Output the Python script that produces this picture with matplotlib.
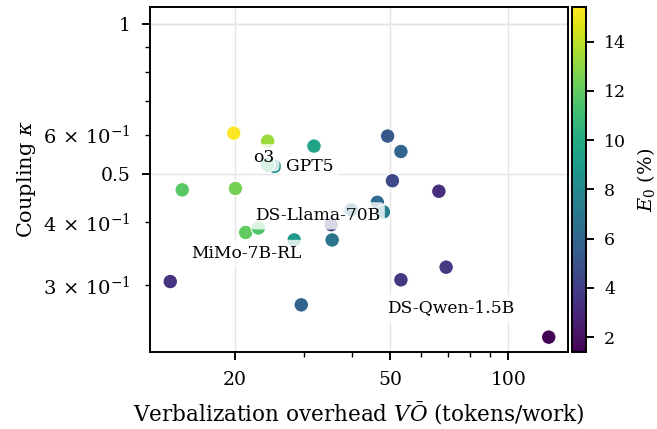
import numpy as np
import matplotlib
matplotlib.use("Agg")
import matplotlib.pyplot as plt
from matplotlib.ticker import NullFormatter, FuncFormatter

plt.rcParams['font.family'] = 'DejaVu Serif'
plt.rcParams['mathtext.fontset'] = 'dejavuserif'

# verbalization overhead (tokens/work), coupling kappa, E0 (%)
vo = [19.9, 24.3, 31.9, 25.3, 24.3, 14.7, 20.1, 21.35, 23.0, 28.4, 35.3, 35.5,
      13.7, 39.7, 49.2, 53.2, 50.6, 66.5, 46.3, 48.0, 29.6, 69.4, 53.2, 126.9]
kappa = [0.604, 0.582, 0.569, 0.518, 0.522, 0.465, 0.468, 0.382, 0.390, 0.369, 0.396, 0.369,
         0.3045, 0.424, 0.596, 0.555, 0.485, 0.462, 0.439, 0.420, 0.2735, 0.3254, 0.307, 0.2356]
e0 = [15.4, 13.3, 9.5, 8.4, 11.0, 11.8, 12.5, 12.0, 11.5, 9.0, 4.3, 6.8,
      3.5, 7.0, 5.2, 6.0, 4.5, 3.3, 6.2, 7.5, 5.8, 3.7, 3.6, 1.4]
names = ['', '', '', 'GPT5', 'o3', '', '', 'MiMo-7B-RL', '', '', '', '',
         '', 'DS-Llama-70B', '', '', '', '', '', '', '', '', '', 'DS-Qwen-1.5B']
# label offsets in pixels
offs = {'o3': (-4, 7), 'GPT5': (35, 0), 'DS-Llama-70B': (-34, -6),
        'MiMo-7B-RL': (1, -21), 'DS-Qwen-1.5B': (-98, 29)}
minor_labelled = [3, 4, 6]


def minor_fmt(v, pos):
    d = int(round(v * 10))
    if d in minor_labelled and abs(v * 10 - d) < 1e-6:
        return r'$%d\,\times\,10^{-1}$' % d
    return ''


fig = plt.figure(figsize=(6.57, 4.29), dpi=100)
ax = fig.add_axes([0.2283, 0.1795, 0.636, 0.804])
cax = fig.add_axes([0.8706, 0.1795, 0.0215, 0.804])

ax.set_xscale('log')
ax.set_yscale('log')
ax.grid(True, which='major', color='#e5e5e5', linewidth=1.0, zorder=0)
ax.axhline(1.0, color='#cccccc', linestyle='--', linewidth=1.0, zorder=1)

sc = ax.scatter(vo, kappa, c=e0, cmap='viridis', s=110, edgecolors='white',
                linewidths=0.8, zorder=3)

for i, n in enumerate(names):
    if n:
        ax.annotate(n, (vo[i], kappa[i]), xytext=offs[n], textcoords='offset pixels',
                    ha='center', va='center', fontsize=12.3, zorder=4,
                    bbox=dict(boxstyle='round,pad=0.3', fc='white', ec='none', alpha=0.8))

ax.set_xlim(12.16, 142)
ax.set_ylim(0.220, 1.081)
ax.set_xticks([20, 50, 100], labels=['20', '50', '100'])
ax.xaxis.set_minor_formatter(NullFormatter())
ax.set_yticks([0.5, 1.0], labels=['0.5', '1'])
ax.yaxis.set_minor_formatter(FuncFormatter(minor_fmt))

for sp in ax.spines.values():
    sp.set_linewidth(1.4)
ax.tick_params(which='major', length=6, width=1.4, labelsize=13.5, pad=8)
ax.tick_params(which='minor', length=3.5, width=1.0, labelsize=14, pad=10.5)

ax.set_xlabel(r'Verbalization overhead $V\bar{O}$ (tokens/work)', fontsize=15.5, labelpad=8)
ax.set_ylabel(r'Coupling $\kappa$', fontsize=15, labelpad=4)

cb = fig.colorbar(sc, cax=cax)
cb.set_ticks([2, 4, 6, 8, 10, 12, 14])
cb.ax.tick_params(labelsize=12.5, length=6, width=1.4, pad=7)
cb.outline.set_linewidth(1.4)
cb.set_label(r'$E_0$ (%)', fontsize=14, labelpad=6)

fig.savefig('out.png', dpi=100)
